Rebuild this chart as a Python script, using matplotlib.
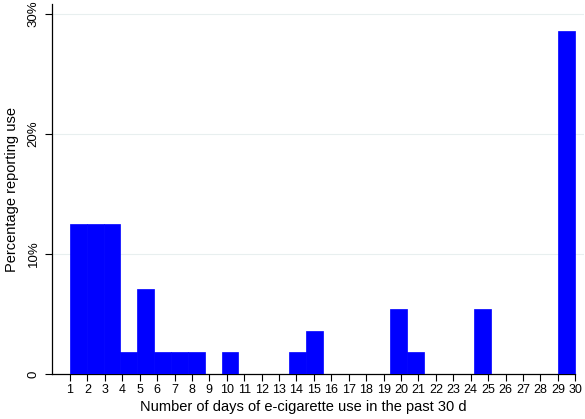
import matplotlib
matplotlib.use("Agg")
import matplotlib.pyplot as plt
import numpy as np

days = list(range(1, 31))
percent_reporting = [12.5, 12.5, 12.5, 1.8, 7.1, 1.8, 1.8, 1.8, 0, 1.8,
                     0, 0, 0, 1.8, 3.6, 0, 0, 0, 0, 5.4,
                     1.8, 0, 0, 0, 5.4, 0, 0, 0, 0, 28.6]
y_ticks = [0, 10, 20, 30]
y_tick_labels = ["0", "10%", "20%", "30%"]

plt.rcParams['font.family'] = ['Liberation Sans', 'DejaVu Sans']

fig = plt.figure(figsize=(5.85, 4.19), dpi=100)
ax = fig.add_axes([52/585, 45/419, (584-52)/585, (415-45)/419])

ax.hist(days, bins=30, range=(1, 30), weights=percent_reporting,
        color='#0000ff', edgecolor='#0000ff', linewidth=0.5, zorder=3)

ax.set_xlim(-0.03, 30.5)
ax.set_ylim(0, 30.83)
ax.set_xticks(days)
ax.set_xticklabels([str(d) for d in days], fontsize=9)
ax.set_yticks(y_ticks)
ax.set_yticklabels(y_tick_labels, fontsize=9.5, rotation=90, va='center')

for t in y_ticks[1:]:
    ax.axhline(t, color='#e8efef', linewidth=0.8, zorder=1)

for s in ['top', 'right']:
    ax.spines[s].set_visible(False)
ax.spines['left'].set_linewidth(0.9)
ax.spines['bottom'].set_linewidth(0.9)
ax.spines['bottom'].set_bounds(-0.03, 30)
ax.axvline(30.5, color='#eef2f2', linewidth=0.8, zorder=1)

ax.tick_params(axis='x', direction='out', length=5, width=0.8, colors='black', pad=2)
ax.tick_params(axis='y', direction='out', length=5, width=0.8, colors='black', pad=4)

ax.set_xlabel("Number of days of e-cigarette use in the past 30 d", fontsize=10.5)
ax.xaxis.set_label_coords((303.5 - 52) / 532, -0.07)
ax.set_ylabel("Percentage reporting use", fontsize=10.5, labelpad=6)

fig.savefig("out.png", dpi=100)
